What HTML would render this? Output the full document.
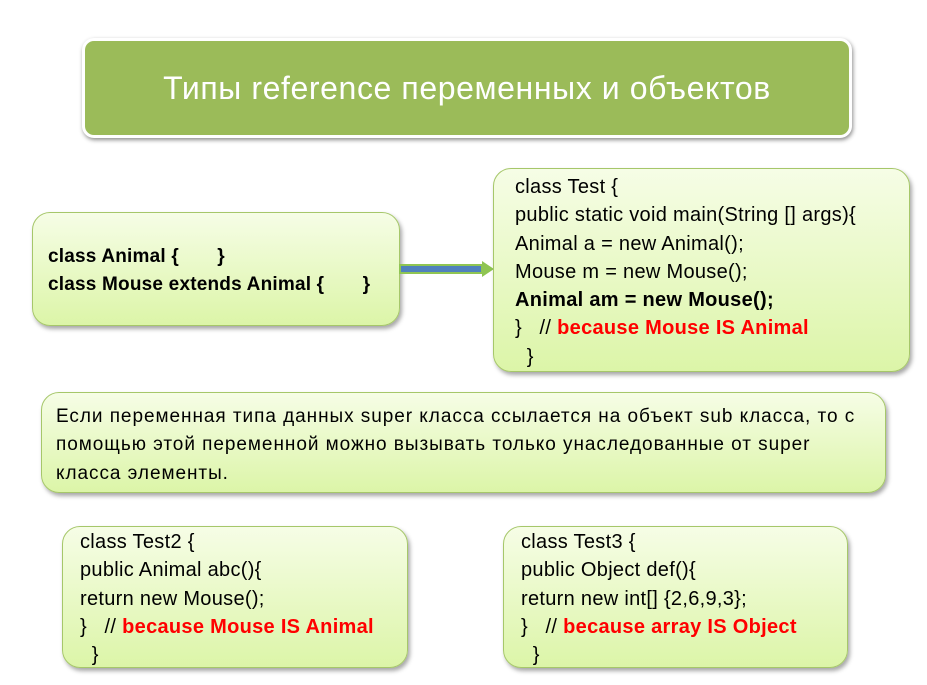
<!DOCTYPE html>
<html><head><meta charset="utf-8"><style>
body{margin:0;width:927px;height:685px;background:#fff;position:relative;overflow:hidden;font-family:"Liberation Sans","DejaVu Sans",sans-serif;}
.t{position:absolute;left:82px;top:38px;width:764px;height:94px;background:#9bbb59;border:3px solid #fff;border-radius:12px;box-shadow:1px 2px 4px rgba(0,0,0,.45);color:#fff;font-size:32px;letter-spacing:0.6px;text-align:center;line-height:94px;}
.b{position:absolute;background:linear-gradient(#f6fde6,#dcf5a8);border:1.5px solid #a6c76a;border-radius:18px;box-shadow:2px 3px 4px rgba(0,0,0,.35);font-size:20px;letter-spacing:0.3px;color:#000;line-height:28.3px;box-sizing:border-box;white-space:nowrap;}
.r{color:#f00;font-weight:bold}
</style></head><body>
<div class="t">Типы reference переменных и объектов</div>
<div class="b" style="left:32px;top:212px;width:368px;height:114px;padding:30px 0 0 15px;font-weight:bold;font-size:19px;letter-spacing:0.2px">class Animal {&nbsp;&nbsp;&nbsp;&nbsp;&nbsp;&nbsp; }<br>class Mouse extends Animal {&nbsp;&nbsp;&nbsp;&nbsp;&nbsp;&nbsp; }</div>
<svg style="position:absolute;left:398px;top:258px" width="100" height="24"><rect x="2" y="7" width="82" height="8" fill="#4f81bd" stroke="#8fc552" stroke-width="2"/><polygon points="84,3 96,11 84,19" fill="#8fc552"/></svg>
<div class="b" style="left:493px;top:168px;width:417px;height:204px;padding:4px 0 0 21px">class Test {<br>public static void main(String [] args){<br>Animal a = new Animal();<br>Mouse m = new Mouse();<br><b>Animal am = new Mouse();</b><br>}&nbsp;&nbsp; // <span class="r">because Mouse IS Animal</span><br>&nbsp; }</div>
<div class="b" style="left:41px;top:392px;width:845px;height:101px;padding:10px 0 0 14px;font-size:19px;letter-spacing:0.95px">Если переменная типа данных super класса ссылается на объект sub класса, то с<br>помощью этой переменной можно вызывать только унаследованные от super<br>класса элементы.</div>
<div class="b" style="left:62px;top:526px;width:346px;height:142px;padding:1px 0 0 17px">class Test2 {<br>public Animal abc(){<br>return new Mouse();<br>}&nbsp;&nbsp; // <span class="r">because Mouse IS Animal</span><br>&nbsp; }</div>
<div class="b" style="left:503px;top:526px;width:345px;height:142px;padding:1px 0 0 17px">class Test3 {<br>public Object def(){<br>return new int[] {2,6,9,3};<br>}&nbsp;&nbsp; // <span class="r">because array IS Object</span><br>&nbsp; }</div>
</body></html>
